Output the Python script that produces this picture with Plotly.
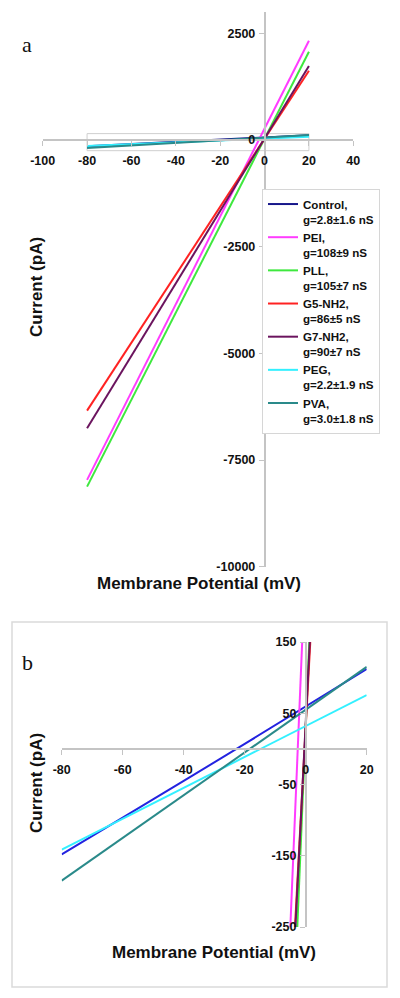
import plotly.graph_objects as go

# ---------------- data ----------------
series_names = [
    "Control,<br>g=2.8±1.6 nS",
    "PEI,<br>g=108±9 nS",
    "PLL,<br>g=105±7 nS",
    "G5-NH2,<br>g=86±5 nS",
    "G7-NH2,<br>g=90±7 nS",
    "PEG,<br>g=2.2±1.9 nS",
    "PVA,<br>g=3.0±1.8 nS",
]
voltage_ends = [-80, 20]
control_v = [-80, -60, -40, -20, 0, 20]
control_i = [-148, -97, -45, 7, 60, 112]
pei_i = [-7966, 2327]
pll_i = [-8123, 2069]
g5_i = [-6343, 1624]
g7_i = [-6755, 1734]
peg_i = [-141.5, 75.4]
pva_i = [-185, 115]

# tick values / labels (hyphen minus as in the original)
xa_ticks = [-100, -80, -60, -40, -20, 0, 20, 40]
ya_ticks = [-10000, -7500, -5000, -2500, 0, 2500]
xb_ticks = [-80, -60, -40, -20, 0, 20]
yb_ticks = [-250, -150, -50, 50, 150]
xa_labels = ["-100", "-80", "-60", "-40", "-20", "0", "20", "40"]
ya_labels = ["-10000", "-7500", "-5000", "-2500", "0", "2500"]
xb_labels = ["-80", "-60", "-40", "-20", "0", "20"]
yb_labels = ["-250", "-150", "-50", "50", "150"]

colors_a = ["#16168a", "#ff3cff", "#3ee83e", "#ff2222", "#6b145e", "#33f0ff", "#2a8a8a"]
colors_b = ["#2323e0", "#ff3cff", "#3ee83e", "#ff2222", "#6b145e", "#33f0ff", "#2a8a8a"]

xa_range = [-100, 40]
ya_range = [-10000, 3000]
xb_range = [-80, 20]
yb_range = [-250, 150]

# page body has an 8px margin; figure is sized to fit the 400x998 window
OFF = 8
W, H = 400 - OFF, 998 - OFF


def px(x):
    return (x - OFF) / W


def py(y):
    return 1 - (y - OFF) / H


a_xdom = [px(42.7), px(353.3)]
a_ydom = [py(566.7), py(12)]
b_xdom = [px(61.7), px(366.7)]
b_ydom = [py(927), py(642)]


def frac(v, rng, dom):
    return dom[0] + (v - rng[0]) / (rng[1] - rng[0]) * (dom[1] - dom[0])


xs = [control_v] + [voltage_ends] * 6
ys = [control_i, pei_i, pll_i, g5_i, g7_i, peg_i, pva_i]

fig = go.Figure()
for name, x, y, c in zip(series_names, xs, ys, colors_a):
    fig.add_trace(go.Scatter(x=x, y=y, mode="lines", name=name,
                             line=dict(color=c, width=2), xaxis="x", yaxis="y"))
for name, x, y, c in zip(series_names, xs, ys, colors_b):
    fig.add_trace(go.Scatter(x=x, y=y, mode="lines", name=name, showlegend=False,
                             line=dict(color=c, width=2), xaxis="x2", yaxis="y2"))

axis_col = "#c4c4c4"
tickfont = dict(family="Liberation Sans, Arial", size=12.5, color="#111", weight="bold")
common = dict(showgrid=False, zeroline=False, showline=True, linecolor=axis_col,
              linewidth=1.5, ticks="outside", ticklen=5, tickcolor=axis_col,
              tickwidth=1, tickfont=tickfont, automargin=False, tickmode="array")

fig.update_layout(
    width=W, height=H, margin=dict(l=0, r=0, t=0, b=0, pad=0, autoexpand=False),
    paper_bgcolor="white", plot_bgcolor="white",
    xaxis=dict(range=xa_range, domain=a_xdom, anchor="free",
               position=frac(0, ya_range, a_ydom), tickvals=xa_ticks,
               ticktext=xa_labels, ticklabelstandoff=4, **common),
    yaxis=dict(range=ya_range, domain=a_ydom, anchor="free",
               position=frac(0, xa_range, a_xdom), tickvals=ya_ticks,
               ticktext=ya_labels, ticklabelstandoff=1, **common),
    xaxis2=dict(range=xb_range, domain=b_xdom, anchor="free",
                position=frac(0, yb_range, b_ydom), tickvals=xb_ticks,
                ticktext=xb_labels, ticklabelstandoff=4, **common),
    yaxis2=dict(range=yb_range, domain=b_ydom, anchor="free",
                position=frac(0, xb_range, b_xdom), tickvals=yb_ticks,
                ticktext=yb_labels, ticklabelstandoff=1, **common),
    legend=dict(x=px(262), y=py(189), xanchor="left", yanchor="top",
                bordercolor="#d6d6d6", borderwidth=1, bgcolor="white",
                valign="top", tracegroupgap=0,
                font=dict(family="Liberation Sans, Arial", size=11.6, color="#111",
                          weight="bold")),
    showlegend=True,
)

# zoom-region box in panel a (panel b's ranges)
fig.add_shape(type="rect", xref="x", yref="y", x0=xb_range[0], x1=xb_range[1],
              y0=yb_range[0], y1=yb_range[1], line=dict(color="#cfcfcf", width=1),
              layer="below")
# frame around panel b
fig.add_shape(type="rect", xref="paper", yref="paper", x0=px(12), x1=px(387),
              y0=py(987), y1=py(622), line=dict(color="#dadada", width=1.5))

title_font = dict(family="Liberation Sans, Arial", size=17, color="#111", weight="bold")
letter_font = dict(family="Liberation Serif, Times New Roman", size=22, color="#111")
ann = [
    dict(text="Current (pA)", x=px(37), y=py(287), textangle=-90, font=title_font),
    dict(text="Membrane Potential (mV)", x=px(199), y=py(583), font=title_font),
    dict(text="Current (pA)", x=px(36), y=py(783), textangle=-90, font=title_font),
    dict(text="Membrane Potential (mV)", x=px(214), y=py(952), font=title_font),
    dict(text="a", x=px(27), y=py(44), font=letter_font),
    dict(text="b", x=px(27), y=py(662), font=letter_font),
]
for a in ann:
    fig.add_annotation(xref="paper", yref="paper", showarrow=False,
                       xanchor="center", yanchor="middle", **a)

fig.write_html("out.html")
